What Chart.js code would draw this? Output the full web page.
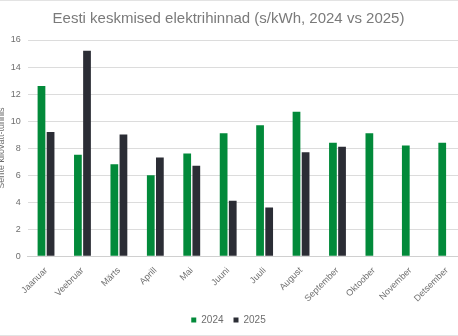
<!DOCTYPE html>
<html>
<head>
<meta charset="utf-8">
<script src="https://cdn.jsdelivr.net/npm/chart.js@4"></script>
<style>
  html, body { margin: 0; padding: 0; background: #fff; overflow: hidden; }
  #frame { position: relative; width: 458px; height: 336px; overflow: hidden;
           border-top: 1px solid #e3e3e3; border-bottom: 1px solid #e3e3e3; box-sizing: border-box; }
  #wrap { position: absolute; left: -8px; top: -1px; width: 476px; height: 335px; }
</style>
</head>
<body>
<div id="frame">
  <div id="wrap"><canvas id="chart"></canvas></div>
</div>
<script>
const months = ['Jaanuar', 'Veebruar', 'Märts', 'Aprill', 'Mai', 'Juuni', 'Juuli',
                'August', 'September', 'Oktoober', 'November', 'Detsember'];
const prices2024 = [12.6, 7.5, 6.8, 6.0, 7.6, 9.1, 9.7, 10.7, 8.4, 9.1, 8.2, 8.4];
const prices2025 = [9.2, 15.2, 9.0, 7.3, 6.7, 4.1, 3.6, 7.7, 8.1, null, null, null];
const yTicks = { min: 0, max: 16, step: 2 };

const gray = '#6e6e6e';
const font = 'Liberation Sans, Arial, sans-serif';

new Chart(document.getElementById('chart'), {
  type: 'bar',
  data: {
    labels: months,
    datasets: [
      { label: '2024', data: prices2024, backgroundColor: '#028a3a' },
      { label: '2025', data: prices2025, backgroundColor: '#2b2d35' }
    ]
  },
  options: {
    responsive: true,
    maintainAspectRatio: false,
    animation: false,
    layout: { padding: { left: 0, right: 3, top: 0, bottom: 0 } },
    datasets: { bar: { categoryPercentage: 0.5, barPercentage: 0.85 } },
    plugins: {
      title: {
        display: true,
        text: 'Eesti keskmised elektrihinnad (s/kWh, 2024 vs 2025)',
        color: '#7a7a7a',
        font: { family: font, size: 15, weight: 'normal' },
        padding: { top: 10, bottom: 12 }
      },
      legend: {
        position: 'bottom',
        labels: {
          color: gray,
          font: { family: font, size: 10 },
          usePointStyle: true,
          pointStyle: 'rect',
          boxWidth: 5,
          boxHeight: 5,
          padding: 10
        }
      },
      tooltip: { enabled: false }
    },
    scales: {
      x: {
        grid: { display: false },
        border: { color: '#d0d0d0' },
        ticks: {
          color: gray,
          font: { family: font, size: 9 },
          minRotation: 45,
          maxRotation: 45,
          padding: 1
        }
      },
      y: {
        min: yTicks.min,
        max: yTicks.max,
        grid: { color: '#dcdcdc', drawTicks: false },
        border: { display: false },
        ticks: {
          stepSize: yTicks.step,
          color: gray,
          font: { family: font, size: 9 },
          padding: 7
        },
        title: {
          display: true,
          text: 'Sente kilovatt-tunnis',
          color: gray,
          font: { family: font, size: 9 },
          padding: { top: 4, bottom: -3 }
        }
      }
    }
  }
});
</script>
</body>
</html>
